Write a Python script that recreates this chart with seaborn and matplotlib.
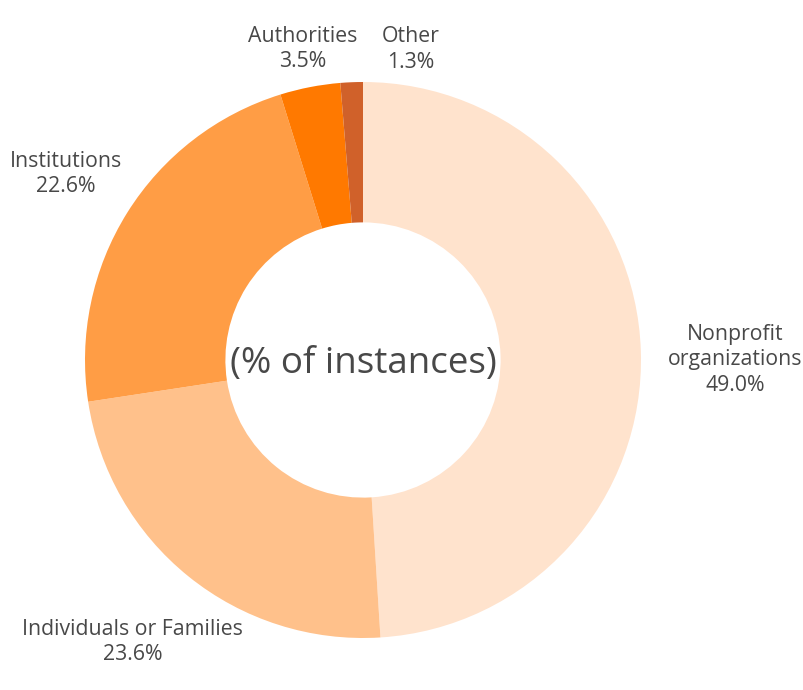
import numpy as np
import matplotlib
matplotlib.use("Agg")
import matplotlib.pyplot as plt
import seaborn as sns

# Share of instances by recipient type
categories = ["Nonprofit\norganizations", "Individuals or Families", "Institutions", "Authorities", "Other"]
shares = [49.0, 23.6, 22.6, 3.5, 1.3]
colors = ["#FFE3CD", "#FFC18B", "#FF9D45", "#FF7900", "#D0612A"]

# label placement: distance from centre (in radii) and angular nudge (degrees)
label_dist = [1.34, 1.31, 1.26, 1.14, 1.13]
label_nudge = [-1.8, -0.3, 0.0, 0.0, -11.0]

sns.set_theme(style="white")
plt.rcParams["font.family"] = ["Open Sans", "DejaVu Sans"]
text_color = "#484848"

W, H = 804, 690
fig = plt.figure(figsize=(W / 100, H / 100), dpi=100)
ax = fig.add_axes([0, 0, 1, 1])

cx, cy, R = 363, H - 360, 278
wedges, _ = ax.pie(shares, colors=colors, startangle=90, counterclock=False,
                   center=(cx, cy), radius=R,
                   wedgeprops=dict(width=R * 0.505, linewidth=0))
ax.set_xlim(0, W)
ax.set_ylim(0, H)
ax.set_aspect("equal")
ax.axis("off")

for w, name, val, d, nudge in zip(wedges, categories, shares, label_dist, label_nudge):
    ang = np.deg2rad((w.theta1 + w.theta2) / 2 + nudge)
    x = cx + d * R * np.cos(ang)
    y = cy + d * R * np.sin(ang)
    ax.text(x, y, f"{name}\n{val:.1f}%", ha="center", va="center",
            fontsize=15.3, color=text_color, linespacing=1.27)

ax.text(cx, cy - 4, "(% of instances)", ha="center", va="center",
        fontsize=26.5, color=text_color)

fig.savefig("out.png", dpi=100)
